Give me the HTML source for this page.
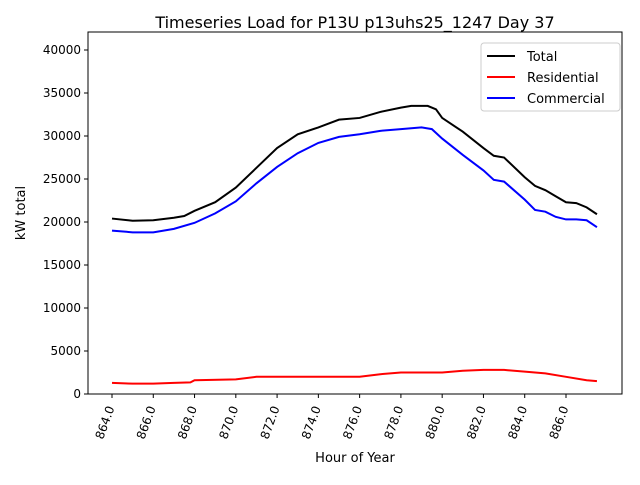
<!DOCTYPE html>
<html><head><meta charset="utf-8"><style>
body{margin:0;background:#fff}
svg text{font-family:"DejaVu Sans","Liberation Sans",sans-serif;fill:#000}
</style></head><body>
<svg id="chart" width="640" height="480" xmlns="http://www.w3.org/2000/svg">
<text x="355" y="28" font-size="16" text-anchor="middle">Timeseries Load for P13U p13uhs25_1247  Day 37</text>
<g id="plot"></g>
<text x="355" y="462" font-size="13" text-anchor="middle">Hour of Year</text>
<text x="25" y="213" font-size="13" text-anchor="middle" transform="rotate(-90 25 213)">kW total</text>
</svg>
<script>
const totalHours=[864,865,866,867,867.5,868,869,870,871,872,873,874,875,876,877,878,878.5,879.3,879.7,880,881,882,882.5,883,884,884.5,885,885.5,886,886.5,887,887.5];
const totalValues=[20400,20150,20200,20500,20700,21300,22300,24000,26300,28600,30200,31000,31900,32100,32800,33300,33500,33500,33100,32100,30500,28600,27700,27500,25200,24200,23700,23000,22300,22200,21700,20900];
const comHours=[864,865,866,867,868,869,870,871,872,873,874,875,876,877,878,879,879.5,880,881,882,882.5,883,884,884.5,885,885.5,886,886.5,887,887.5];
const comValues=[19000,18800,18800,19200,19900,21000,22400,24500,26400,28000,29200,29900,30200,30600,30800,31000,30800,29700,27800,26000,24900,24700,22600,21400,21200,20600,20300,20300,20200,19400];
const resHours=[864,865,866,867,867.8,868,870,871,872,874,876,877,878,880,881,882,883,884,885,886,887,887.5];
const resValues=[1300,1200,1200,1300,1350,1600,1700,2000,2000,2000,2000,2300,2500,2500,2700,2800,2800,2600,2400,2000,1600,1500];
const xTicks=[864,866,868,870,872,874,876,878,880,882,884,886];
const yTicks=[0,5000,10000,15000,20000,25000,30000,35000,40000];
const X=h=>112+(h-864)*20.636, Y=v=>394-v*0.0086;
const L=88,R=622,T=32,B=394;
const NS="http://www.w3.org/2000/svg", g=document.getElementById('plot');
function mk(t,a){const e=document.createElementNS(NS,t);for(const k in a)e.setAttribute(k,a[k]);g.appendChild(e);return e;}
function line(hs,vs,c,n){const p=mk('polyline',{points:hs.map((h,i)=>X(h)+','+Y(vs[i])).join(' '),fill:'none',stroke:c,'stroke-width':2});

}
line(resHours,resValues,'#ff0000','residential-line');
line(comHours,comValues,'#0000ff','commercial-line');
line(totalHours,totalValues,'#000','total-line');
const frame=mk('rect',{x:L,y:T,width:R-L,height:B-T,fill:'none',stroke:'#000','stroke-width':1});


xTicks.forEach(h=>{const x=X(h);mk('line',{x1:x,x2:x,y1:B,y2:B+4,stroke:'#000'});
const t=mk('text',{x:x,y:B+10,'font-size':12,'text-anchor':'end',transform:`rotate(-70 ${x+4} ${B+10})`});t.textContent=h.toFixed(1);

});
yTicks.forEach(v=>{const y=Y(v);mk('line',{x1:L-4,x2:L,y1:y,y2:y,stroke:'#000'});
const t=mk('text',{x:L-7,y:y+4,'font-size':12,'text-anchor':'end'});t.textContent=v;

});
const lg=mk('rect',{x:481,y:43,width:139,height:68,fill:'#fff',stroke:'#ccc',rx:3});


[['Total','#000'],['Residential','#ff0000'],['Commercial','#0000ff']].forEach((e,i)=>{const y=56+i*21;
mk('line',{x1:487,x2:515,y1:y,y2:y,stroke:e[1],'stroke-width':2});
const t=mk('text',{x:527,y:y+5,'font-size':13});t.textContent=e[0];

});
</script>
</body></html>
